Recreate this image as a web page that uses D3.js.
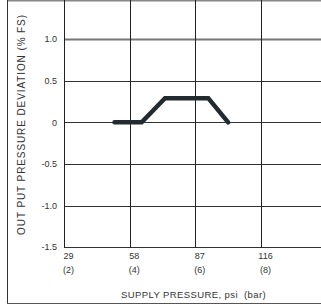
<!DOCTYPE html>
<html><head><meta charset="utf-8">
<script src="https://cdn.jsdelivr.net/npm/d3@7"></script>
<style>html,body{margin:0;padding:0;background:#fff;}svg{display:block;}</style>
</head><body>
<svg id="c" width="321" height="306"></svg>
<script>
const xTicks = [29, 58, 87, 116];
const xTickBar = ["(2)", "(4)", "(6)", "(8)"];
const yTicks = [-1.5, -1.0, -0.5, 0, 0.5, 1.0];
const yTickLabels = ["-1.5", "-1.0", "-0.5", "0", "0.5", "1.0"];
const supplyPsi = [51.3, 63.3, 73.6, 92.7, 101.5];
const deviation = [0, 0, 0.29, 0.29, 0];
const xTitle = "SUPPLY PRESSURE, psi  (bar)";
const yTitle = "OUT PUT PRESSURE DEVIATION (% FS)";

const svg = d3.select("#c");
const x = d3.scaleLinear().domain([29, 145]).range([64, 326.7]);
const y = d3.scaleLinear().domain([-1.5, 1.5]).range([247.3, -2.6]);
const font = "'Liberation Sans', Arial, sans-serif";

// frame
svg.append("line").attr("x1", 7.5).attr("x2", 321).attr("y1", 0.5).attr("y2", 0.5)
  .attr("stroke", "#888").attr("stroke-width", 2);
svg.append("line").attr("x1", 7.5).attr("x2", 7.5).attr("y1", 0).attr("y2", 303.5)
  .attr("stroke", "#333").attr("stroke-width", 1);
svg.append("line").attr("x1", 7).attr("x2", 321).attr("y1", 303.5).attr("y2", 303.5)
  .attr("stroke", "#555").attr("stroke-width", 1);

// horizontal gridlines
svg.append("g").selectAll("line").data(yTicks).join("line")
  .attr("x1", x(29)).attr("x2", 321)
  .attr("y1", d => Math.round(y(d)) + 0.5).attr("y2", d => Math.round(y(d)) + 0.5)
  .attr("stroke", d => d === 1.0 ? "#777" : "#333")
  .attr("stroke-width", d => d === 1.0 ? 2 : 1);

// vertical gridlines
svg.append("g").selectAll("line").data(xTicks).join("line")
  .attr("x1", d => Math.round(x(d)) + 0.5).attr("x2", d => Math.round(x(d)) + 0.5)
  .attr("y1", 0).attr("y2", Math.round(y(-1.5)) + 1)
  .attr("stroke", "#222").attr("stroke-width", 1);

// y tick labels
svg.append("g").selectAll("text").data(yTicks).join("text")
  .attr("x", 57).attr("y", d => y(d)).attr("dy", "0.35em")
  .attr("text-anchor", "end").attr("font-family", font).attr("font-size", 9)
  .attr("fill", "#333").text((d, i) => yTickLabels[i]);

// x tick labels
svg.append("g").selectAll("text").data(xTicks).join("text")
  .attr("x", d => x(d) + 4.5).attr("y", 256).attr("dy", "0.35em")
  .attr("text-anchor", "middle").attr("font-family", font).attr("font-size", 9)
  .attr("fill", "#333").text(d => d);
svg.append("g").selectAll("text").data(xTicks).join("text")
  .attr("x", d => x(d) + 4.5).attr("y", 270).attr("dy", "0.35em")
  .attr("text-anchor", "middle").attr("font-family", font).attr("font-size", 9)
  .attr("fill", "#333").text((d, i) => xTickBar[i]);

// titles
svg.append("text").attr("x", 193.5).attr("y", 295).attr("dy", "0.35em")
  .attr("text-anchor", "middle").attr("font-family", font).attr("font-size", 9.5)
  .attr("letter-spacing", 0.4).attr("fill", "#333").style("white-space", "pre").text(xTitle);
svg.append("text").attr("transform", "translate(21,124.5) rotate(-90)").attr("dy", "0.35em")
  .attr("text-anchor", "middle").attr("font-family", font).attr("font-size", 10)
  .attr("letter-spacing", 0.9).attr("fill", "#333").text(yTitle);

// data line
const line = d3.line().x((d, i) => x(supplyPsi[i])).y(d => y(d));
svg.append("path").datum(deviation).attr("d", line)
  .attr("fill", "none").attr("stroke", "#222b2f").attr("stroke-width", 4.5)
  .attr("stroke-linecap", "round").attr("stroke-linejoin", "miter");
</script>
</body></html>
